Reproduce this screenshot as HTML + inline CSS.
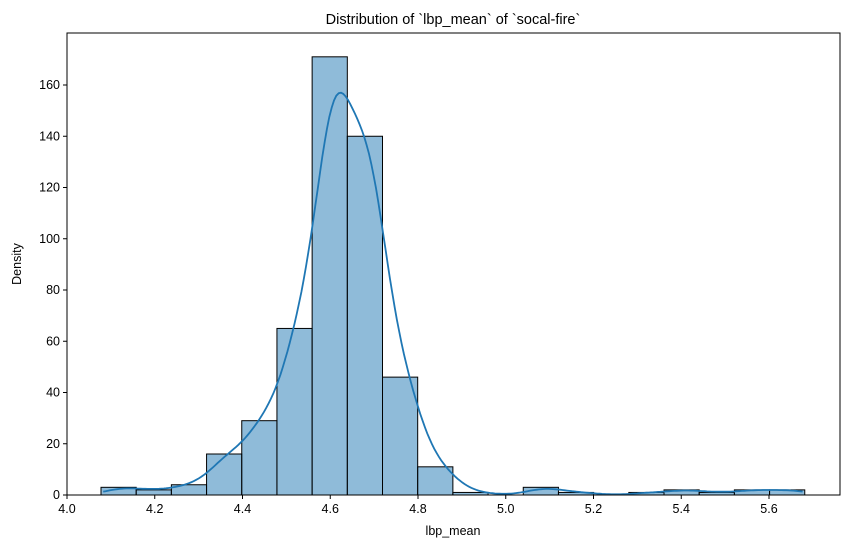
<!DOCTYPE html>
<html><head><meta charset="utf-8"><style>
body{margin:0;background:#fff;font-family:"Liberation Sans","DejaVu Sans",sans-serif}
</style></head><body>
<svg id="c" width="850" height="548" xmlns="http://www.w3.org/2000/svg">
<rect width="850" height="548" fill="#fff"/>
<text x="453" y="24" text-anchor="middle" font-size="14.5" fill="#000">Distribution of `lbp_mean` of `socal-fire`</text>
<text x="453" y="535" text-anchor="middle" font-size="12.5" fill="#000">lbp_mean</text>
<text x="21" y="264" text-anchor="middle" font-size="12.5" fill="#000" transform="rotate(-90 21 264)">Density</text>
<g id="bars"></g><g id="kde"></g><g id="axes"></g>
</svg>
<script>
const binStart = 4.0775;
const binWidth = 0.0802;
const counts = [3,2,4,16,29,65,171,140,46,11,1,0,3,1,0,1,2,1,2,2];
const xTicks = [4.0,4.2,4.4,4.6,4.8,5.0,5.2,5.4,5.6];
const yTicks = [0,20,40,60,80,100,120,140,160];
const L=67,R=840,T=33,B=495;
const xs=v=>L+(v-4.0)*438.75;
const ys=v=>B-v*2.5625;
const NS="http://www.w3.org/2000/svg";
function mk(t,a,p){const e=document.createElementNS(NS,t);for(const k in a)e.setAttribute(k,a[k]);p.appendChild(e);return e;}
const gb=document.getElementById('bars');
counts.forEach((c,i)=>{
  const x0=xs(binStart+i*binWidth),x1=xs(binStart+(i+1)*binWidth);
  if(c<=0)return;
  const r=mk('rect',{x:x0,y:ys(c),width:x1-x0,height:B-ys(c),fill:'rgba(31,119,180,0.5)',stroke:'#000','stroke-width':1},gb);
  
  
});
let n=0;counts.forEach(c=>{n+=c;});
const bw=0.043;
let pts=[];
const lo=binStart+0.005,hi=binStart+counts.length*binWidth-0.005;
for(let k=0;k<=300;k++){
  const x=lo+(hi-lo)*k/300;let s=0;
  counts.forEach((c,i)=>{const d=(x-(binStart+(i+.5)*binWidth)-0.01)/bw;s+=c*Math.exp(-.5*d*d);});
  const dens=s/(n*bw*Math.sqrt(2*Math.PI));
  pts.push(xs(x).toFixed(1)+','+ys(dens*n*binWidth).toFixed(1));
}
const kl=mk('polyline',{points:pts.join(' '),fill:'none',stroke:'#1f77b4','stroke-width':1.8},document.getElementById('kde'));


const ga=document.getElementById('axes');
mk('rect',{x:L,y:T,width:R-L,height:B-T,fill:'none',stroke:'#000','stroke-width':1},ga);
xTicks.forEach(t=>{
  mk('line',{x1:xs(t),x2:xs(t),y1:B,y2:B+4,stroke:'#000'},ga);
  const tx=mk('text',{x:xs(t),y:B+18,'text-anchor':'middle','font-size':12.5},ga);
  tx.textContent=t.toFixed(1);
  
  
});
yTicks.forEach(t=>{
  mk('line',{x1:L-4,x2:L,y1:ys(t),y2:ys(t),stroke:'#000'},ga);
  const tx=mk('text',{x:L-7,y:ys(t)+4,'text-anchor':'end','font-size':12.5},ga);
  tx.textContent=t;
  
  
});
</script>
</body></html>
